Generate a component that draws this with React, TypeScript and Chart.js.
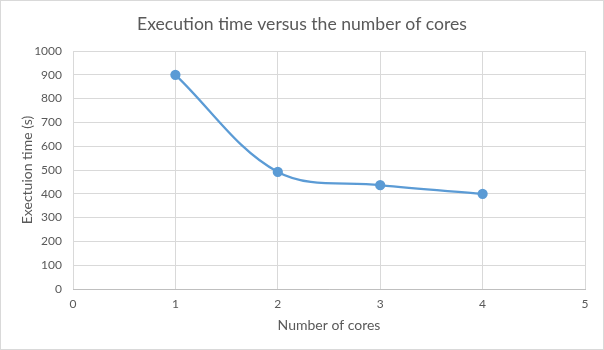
import React, { useEffect, useRef } from "react";
import { Chart, registerables } from "chart.js";

Chart.register(...registerables);

const cores = [1, 2, 3, 4];
const execTimes = [900, 492, 436, 400];
const xTicks = [0, 1, 2, 3, 4, 5];
const yTicks = [0, 100, 200, 300, 400, 500, 600, 700, 800, 900, 1000];

const TEXT = "#595959";
const GRID = "#d9d9d9";
const FONT = "Lato, 'Open Sans', sans-serif";

const borderPlugin = {
  id: "outerBorder",
  afterDraw(chart: any) {
    const { ctx, width, height } = chart;
    ctx.save();
    ctx.strokeStyle = "#d9d9d9";
    ctx.lineWidth = 1;
    ctx.strokeRect(0.5, 0.5, width - 1, height - 1);
    ctx.restore();
  },
};

export default function App() {
  const ref = useRef<HTMLCanvasElement | null>(null);

  useEffect(() => {
    if (!ref.current) return;
    const chart = new Chart(ref.current, {
      type: "line",
      data: {
        datasets: [
          {
            label: "Execution time",
            data: cores.map((c, i) => ({ x: c, y: execTimes[i] })),
            borderColor: "#5b9bd5",
            backgroundColor: "#5b9bd5",
            pointBackgroundColor: "#5b9bd5",
            pointBorderColor: "#5b9bd5",
            pointRadius: 4,
            borderWidth: 2.25,
            tension: 0.35,
            fill: false,
            yAxisID: "y",
          },
        ],
      },
      options: {
        animation: false,
        responsive: false,
        maintainAspectRatio: false,
        layout: { padding: { left: 0, right: 0, top: 0, bottom: 0 } },
        plugins: {
          legend: { display: false },
          tooltip: { enabled: false },
          title: {
            display: true,
            text: "Execution time versus the number of cores",
            color: TEXT,
            font: { family: FONT, size: 17.6, weight: "normal" },
            padding: { top: 14, bottom: 15.9 },
          },
        },
        scales: {
          x: {
            type: "linear",
            min: 0,
            max: 5,
            afterBuildTicks: (scale: any) => {
              scale.ticks = xTicks.map((v) => ({ value: v }));
            },
            afterFit: (scale: any) => {
              scale.height = 61;
            },
            grid: { color: GRID, drawTicks: false, lineWidth: 1 },
            border: { display: true, color: "#bfbfbf", width: 1 },
            ticks: {
              color: TEXT,
              padding: 8,
              font: { family: FONT, size: 12 },
              callback: (v: any) => String(v),
            },
            title: {
              display: true,
              text: "Number of cores",
              color: TEXT,
              font: { family: FONT, size: 14 },
              padding: { top: 0, bottom: 16.6 },
            },
          },
          y: {
            type: "linear",
            position: "left",
            min: 0,
            max: 1000,
            afterBuildTicks: (scale: any) => {
              scale.ticks = yTicks.map((v) => ({ value: v }));
            },
            afterFit: (scale: any) => {
              scale.width = 73;
            },
            grid: { color: GRID, drawTicks: false, lineWidth: 1 },
            border: { display: false },
            ticks: {
              color: TEXT,
              padding: 11,
              font: { family: FONT, size: 12 },
              callback: (v: any) => String(v),
            },
            title: {
              display: true,
              text: "Exectuion time (s)",
              color: TEXT,
              font: { family: FONT, size: 14 },
              padding: { top: 18.6, bottom: 0 },
            },
          },
          yRight: {
            type: "linear",
            position: "right",
            display: true,
            min: 0,
            max: 1000,
            afterFit: (scale: any) => {
              scale.width = 19;
            },
            grid: { display: false, drawTicks: false },
            border: { display: false },
            ticks: { display: false },
          },
        },
      },
      plugins: [borderPlugin],
    } as any);
    return () => chart.destroy();
  }, []);

  return (
    <div
      style={{
        position: "absolute",
        left: 0,
        top: 0,
        width: 604,
        height: 350,
        background: "#ffffff",
      }}
    >
      <canvas ref={ref} width={604} height={350} style={{ display: "block" }} />
    </div>
  );
}
